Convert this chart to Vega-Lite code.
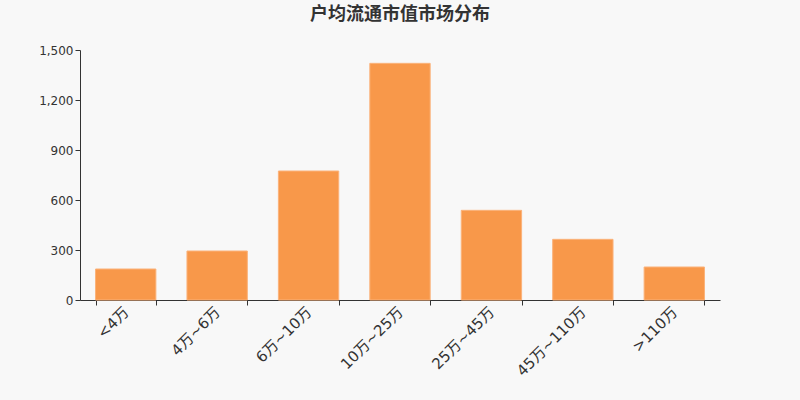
{
  "$schema": "https://vega.github.io/schema/vega-lite/v6.json",
  "autosize": "none",
  "padding": {"left": 80, "top": 50, "right": 80, "bottom": 100},
  "width": 640,
  "height": 250,
  "background": "#f8f8f8",
  "title": {
    "text": "户均流通市值市场分布",
    "font": "Noto Sans CJK SC",
    "fontSize": 18,
    "fontWeight": "bold",
    "color": "#333333",
    "anchor": "middle",
    "offset": 20
  },
  "data": {
    "values": [
      {"range": "<4万", "value": 186},
      {"range": "4万~6万", "value": 294},
      {"range": "6万~10万", "value": 774},
      {"range": "10万~25万", "value": 1420},
      {"range": "25万~45万", "value": 538},
      {"range": "45万~110万", "value": 364},
      {"range": ">110万", "value": 198}
    ]
  },
  "mark": {"type": "bar", "color": "#f8984a", "stroke": "#fbb27a", "strokeWidth": 1},
  "encoding": {
    "x": {
      "field": "range",
      "type": "nominal",
      "sort": null,
      "title": null,
      "scale": {"paddingInner": 0.34, "paddingOuter": 0.17},
      "axis": {
        "labelAngle": -45,
        "labelAlign": "right",
        "labelBaseline": "middle",
        "labelFontSize": 15,
        "labelFont": "DejaVu Sans, Noto Sans CJK SC",
        "labelColor": "#333333",
        "labelPadding": 4,
        "tickBand": "extent",
        "tickSize": 5,
        "tickColor": "#333333",
        "domainColor": "#333333"
      }
    },
    "y": {
      "field": "value",
      "type": "quantitative",
      "title": null,
      "scale": {"domain": [0, 1500]},
      "axis": {
        "values": [0, 300, 600, 900, 1200, 1500],
        "format": ",.0f",
        "grid": false,
        "labelFontSize": 12,
        "labelFont": "DejaVu Sans",
        "labelColor": "#333333",
        "tickSize": 5,
        "tickColor": "#333333",
        "domainColor": "#333333"
      }
    }
  },
  "config": {"view": {"stroke": null}}
}
